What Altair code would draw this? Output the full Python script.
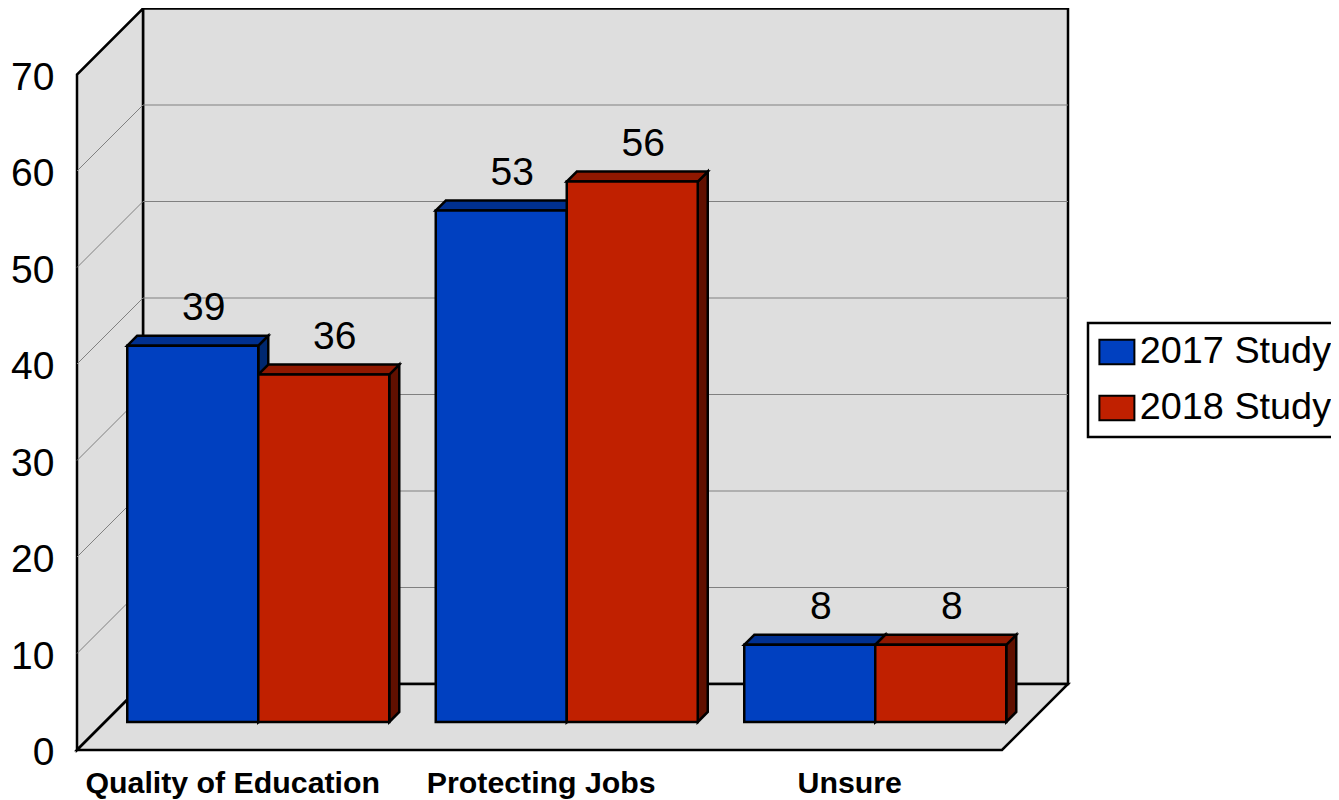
import altair as alt
import pandas as pd

categories = ["Quality of Education", "Protecting Jobs", "Unsure"]
series = ["2017 Study", "2018 Study"]
values_2017 = [39, 53, 8]
values_2018 = [36, 56, 8]
tick_values = [0, 10, 20, 30, 40, 50, 60, 70]

FRONT = {"2017 Study": "#0040C0", "2018 Study": "#C02000"}
TOP = {"2017 Study": "#003090", "2018 Study": "#901800"}
SIDE = {"2017 Study": "#002870", "2018 Study": "#601000"}
GREY = "#DEDEDE"
FONT = "Liberation Sans"

# projection of the oblique box, in data units
CAT_PX = 308.5
UNIT_PX = 9.65
DEPTH_X = 66 / CAT_PX          # depth 1 -> category units
DEPTH_Y = 66 / UNIT_PX         # depth 1 -> value units
BAR_D0, BAR_D1 = 28 / 66, 38 / 66
BAR_W = 131 / CAT_PX
TOPV = 70


def px(u, d):
    return u + d * DEPTH_X


def py(v, d):
    return v + d * DEPTH_Y


plot_w, plot_h = 991, 742
x_scale = alt.Scale(domain=[0, plot_w / CAT_PX], range=[0, plot_w], nice=False, zero=False)
y_scale = alt.Scale(domain=[0, plot_h / UNIT_PX], range=[plot_h, 0], nice=False, zero=False)

label_expr = "[" + ",".join(f"'{c}'" for c in categories) + "][floor(datum.value)]"
x_axis = alt.Axis(
    values=[i + 0.5 for i in range(len(categories))], labelExpr=label_expr, title=None,
    domain=False, ticks=False, grid=False, labelFont=FONT, labelFontSize=30.3, labelFontWeight="bold",
    labelColor="black", labelPadding=18, labelOffset=1, labelOverlap=False, labelFlush=False, labelLimit=500,
)
y_axis = alt.Axis(
    values=tick_values, title=None, domain=False, ticks=False, grid=False,
    labelFont=FONT, labelFontSize=39, labelColor="black", labelPadding=23, labelOffset=2.5,
)


def X():
    return alt.X("x:Q", scale=x_scale, axis=x_axis)


def Y():
    return alt.Y("y:Q", scale=y_scale, axis=y_axis)


# ---- bars -------------------------------------------------------------
fronts, tops, sides, labels = [], [], [], []
for i, cat in enumerate(categories):
    for j, (s, vals) in enumerate(zip(series, [values_2017, values_2018])):
        v = vals[i]
        u0 = i + 0.5 + (j - 1) * BAR_W - 1.0 / CAT_PX
        u1 = u0 + BAR_W
        key = f"{i}-{j}"
        fronts.append(dict(x=px(u0, BAR_D0), x2=px(u1, BAR_D0), y=py(0, BAR_D0), y2=py(v, BAR_D0), series=s))
        for d in (BAR_D0, BAR_D1):
            tops.append(dict(key=key, y=py(v, d), x=px(u0, d), x2=px(u1, d), c=TOP[s]))
            sides.append(dict(key=key, x=px(u1, d), y=py(0, d), y2=py(v, d), c=SIDE[s]))
        labels.append(dict(x=px((u0 + u1) / 2, BAR_D1), y=py(v, BAR_D1), t=str(v)))

front_layer = alt.Chart(pd.DataFrame(fronts)).mark_rect(stroke="black", strokeWidth=2.5).encode(
    X(), x2="x2:Q", y=Y(), y2="y2:Q",
    color=alt.Color(
        "series:N",
        scale=alt.Scale(domain=series, range=[FRONT[s] for s in series]),
        legend=alt.Legend(
            title=None, orient="none", legendX=1011, legendY=315,
            symbolType="M-1,-0.7H1V0.7H-1Z", symbolSize=1225, symbolStrokeWidth=2,
            symbolStrokeColor="black", symbolOpacity=1,
            labelFont=FONT, labelFontSize=37.8, labelColor="black", labelOffset=4, labelLimit=400,
            rowPadding=17, padding=10, fillColor="white", strokeColor="black",
        ),
    ),
)
top_layer = alt.Chart(pd.DataFrame(tops)).mark_area(orient="horizontal", stroke="black", strokeWidth=2.5).encode(
    y=Y(), x=X(), x2="x2:Q",
    fill=alt.Fill("c:N", scale=None), detail="key:N",
)
side_layer = alt.Chart(pd.DataFrame(sides)).mark_area(orient="vertical", stroke="black", strokeWidth=2.5).encode(
    x=X(), y=Y(), y2="y2:Q",
    fill=alt.Fill("c:N", scale=None), detail="key:N",
)
label_layer = alt.Chart(pd.DataFrame(labels)).mark_text(
    font=FONT, fontSize=39, color="black", baseline="middle", dy=-28, dx=1
).encode(x=X(), y=Y(), text="t:N")

# ---- box --------------------------------------------------------------
box_right = 925 / CAT_PX
back = pd.DataFrame([dict(x=px(0, 1), x2=px(box_right, 1), y=py(0, 1), y2=py(TOPV, 1))])
back_layer = alt.Chart(back).mark_rect(fill=GREY, stroke="black", strokeWidth=2.5).encode(
    x=X(), x2="x2:Q", y=Y(), y2="y2:Q",
)
floor = pd.DataFrame([
    dict(y=py(0, 0), x=px(0, 0), x2=px(box_right, 0)),
    dict(y=py(0, 1), x=px(0, 1), x2=px(box_right, 1)),
])
floor_layer = alt.Chart(floor).mark_area(orient="horizontal", fill=GREY, stroke="black", strokeWidth=2.5).encode(
    y=Y(), x=X(), x2="x2:Q",
)
wall = pd.DataFrame([
    dict(x=px(0, 0), y=py(0, 0), y2=py(TOPV, 0)),
    dict(x=px(0, 1), y=py(0, 1), y2=py(TOPV, 1)),
])
wall_layer = alt.Chart(wall).mark_area(orient="vertical", fill=GREY, stroke="black", strokeWidth=2.5).encode(
    x=X(), y=Y(), y2="y2:Q",
)
grid_vals = [t for t in tick_values if 0 < t < TOPV]
grid_diag = pd.DataFrame([dict(k=t, x=px(0, d), y=py(t, d)) for t in grid_vals for d in (0, 1)])
grid_diag_layer = alt.Chart(grid_diag).mark_line(color="#808080", strokeWidth=1).encode(
    x=X(), y=Y(), detail="k:N",
)
grid_back = pd.DataFrame([dict(x=px(0, 1), x2=px(box_right, 1), y=py(t, 1)) for t in grid_vals])
grid_back_layer = alt.Chart(grid_back).mark_rule(color="#808080", strokeWidth=1).encode(
    x=X(), x2="x2:Q", y=Y(),
)

chart = alt.layer(
    back_layer, wall_layer, floor_layer, grid_back_layer, grid_diag_layer,
    side_layer, top_layer, front_layer, label_layer,
).properties(
    width=plot_w, height=plot_h,
    autosize=alt.AutoSizeParams(type="none"),
    padding={"left": 69, "top": 0, "right": 263, "bottom": 50},
    background="white",
).configure_view(stroke=None).configure_legend(strokeWidth=2.5)

chart.save("out.html", embed_options={"renderer": "svg", "actions": False})
